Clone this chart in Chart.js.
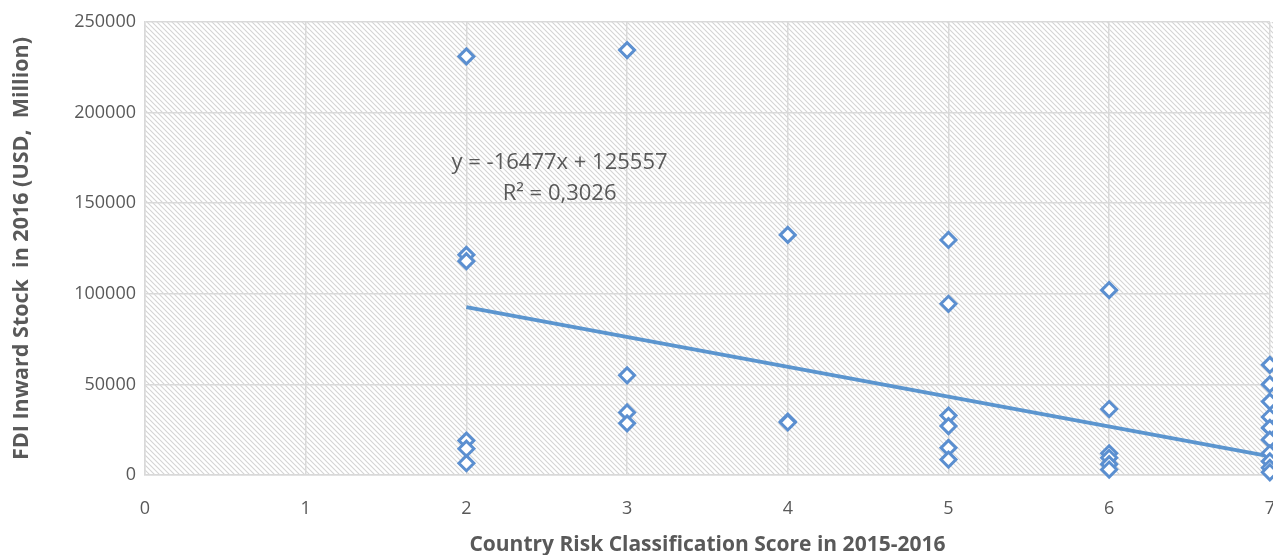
<!DOCTYPE html>
<html>
<head>
<meta charset="utf-8">
<script src="https://cdn.jsdelivr.net/npm/chart.js@4/dist/chart.umd.min.js"></script>
<style>
  html, body { margin: 0; padding: 0; background: #ffffff; overflow: hidden; }
  #wrap { width: 1298px; height: 555px; position: relative; }
</style>
</head>
<body>
<div id="wrap"><canvas id="riskchart"></canvas></div>
<script>
// Country risk score (x) and FDI inward stock (y) for each country
const riskScores = [2, 2, 2, 2, 2, 2,
                    3, 3, 3, 3,
                    4, 4, 4,
                    5, 5, 5, 5, 5, 5,
                    6, 6, 6, 6, 6, 6,
                    7, 7, 7, 7, 7, 7, 7, 7, 7, 7];
const fdiStock = [231000, 121500, 118000, 19000, 14500, 6500,
                  234500, 55000, 34500, 28500,
                  132500, 29500, 29000,
                  129700, 94500, 32800, 27000, 15000, 8500,
                  102000, 36400, 12000, 9500, 6000, 3000,
                  60800, 50000, 40500, 32000, 26000, 19500, 12000, 7500, 4000, 1500];

// Linear trendline as printed on the chart
const trendSlope = -16477;
const trendIntercept = 125557;
const trendRange = [2, 7];
const trendLabels = ['y = -16477x + 125557', 'R\u00b2 = 0,3026'];

const xTicks = [0, 1, 2, 3, 4, 5, 6, 7];
const yTicks = [0, 50000, 100000, 150000, 200000, 250000];

const points = riskScores.map((x, i) => ({ x: x, y: fdiStock[i] }));
const trendPoints = trendRange.map(x => ({ x: x, y: trendSlope * x + trendIntercept }));

// hatched plot background
function makeHatch() {
    const c = document.createElement('canvas');
    c.width = 5; c.height = 5;
    const g = c.getContext('2d');
    g.fillStyle = '#ffffff';
    g.fillRect(0, 0, 5, 5);
    g.strokeStyle = '#d4d4d4';
    g.lineWidth = 1.1;
    g.beginPath();
    g.moveTo(-1, -1); g.lineTo(6, 6);
    g.moveTo(-1, 4); g.lineTo(1, 6);
    g.moveTo(4, -1); g.lineTo(6, 1);
    g.stroke();
    return c;
}

const hatchPlugin = {
    id: 'hatch',
    beforeDraw(chart) {
        const { ctx, chartArea: a } = chart;
        ctx.save();
        ctx.fillStyle = ctx.createPattern(makeHatch(), 'repeat');
        ctx.fillRect(a.left, a.top, a.right - a.left + 10, a.bottom - a.top);
        ctx.restore();
    }
};

const trendTextPlugin = {
    id: 'trendText',
    afterDatasetsDraw(chart) {
        const { ctx, scales } = chart;
        ctx.save();
        ctx.font = '22px "Open Sans"';
        ctx.fillStyle = '#595959';
        ctx.textAlign = 'center';
        ctx.textBaseline = 'middle';
        ctx.fillText(trendLabels[0], scales.x.getPixelForValue(2.58), scales.y.getPixelForValue(172500));
        ctx.fillText(trendLabels[1], scales.x.getPixelForValue(2.58), scales.y.getPixelForValue(155000));
        ctx.restore();
    }
};

const ctx = document.getElementById('riskchart').getContext('2d');
const riskChart = new Chart(ctx, {
    type: 'scatter',
    data: {
        datasets: [{
            label: 'FDI Inward Stock',
            data: points,
            pointStyle: 'rectRot',
            pointRadius: 7.5,
            pointHoverRadius: 7.5,
            pointBorderWidth: 3,
            borderColor: '#5b8fd0',
            backgroundColor: '#ffffff',
            clip: false,
            order: 1
        }, {
            type: 'line',
            label: 'Trend',
            data: trendPoints,
            borderColor: '#5b95cf',
            borderWidth: 3.8,
            pointRadius: 0,
            fill: false,
            clip: false,
            order: 2
        }]
    },
    options: {
        responsive: true,
        maintainAspectRatio: false,
        animation: false,
        layout: {
            autoPadding: false,
            padding: { top: 22, right: 4, left: 0, bottom: 0 }
        },
        plugins: {
            legend: { display: false },
            tooltip: { enabled: false }
        },
        scales: {
            x: {
                type: 'linear',
                min: 0,
                max: 7,
                afterBuildTicks: scale => { scale.ticks = xTicks.map(v => ({ value: v })); },
                afterFit: scale => { scale.height = 80; },
                ticks: {
                    color: '#595959',
                    font: { family: 'Open Sans', size: 18 },
                    padding: 23
                },
                grid: { color: '#d9d9d9', lineWidth: 1.5, drawTicks: false },
                border: { color: '#d9d9d9', width: 1.5 },
                title: {
                    display: true,
                    text: 'Country Risk Classification Score in 2015-2016',
                    color: '#595959',
                    font: { family: 'Open Sans', size: 21, weight: 'bold' },
                    padding: { top: 0, bottom: -3 }
                }
            },
            y: {
                min: 0,
                max: 250000,
                afterBuildTicks: scale => { scale.ticks = yTicks.map(v => ({ value: v })); },
                afterFit: scale => { scale.width = 145; },
                ticks: {
                    color: '#595959',
                    font: { family: 'Open Sans', size: 18 },
                    padding: 9,
                    callback: v => String(v)
                },
                grid: { color: '#d9d9d9', lineWidth: 1.5, drawTicks: false },
                border: { color: '#d9d9d9', width: 1.5 },
                title: {
                    display: true,
                    text: 'FDI Inward Stock  in 2016 (USD,  Million)',
                    color: '#595959',
                    font: { family: 'Open Sans', size: 21.5, weight: 'bold' },
                    padding: { top: 9, bottom: 0 }
                }
            }
        }
    },
    plugins: [hatchPlugin, trendTextPlugin]
});
</script>
</body>
</html>
